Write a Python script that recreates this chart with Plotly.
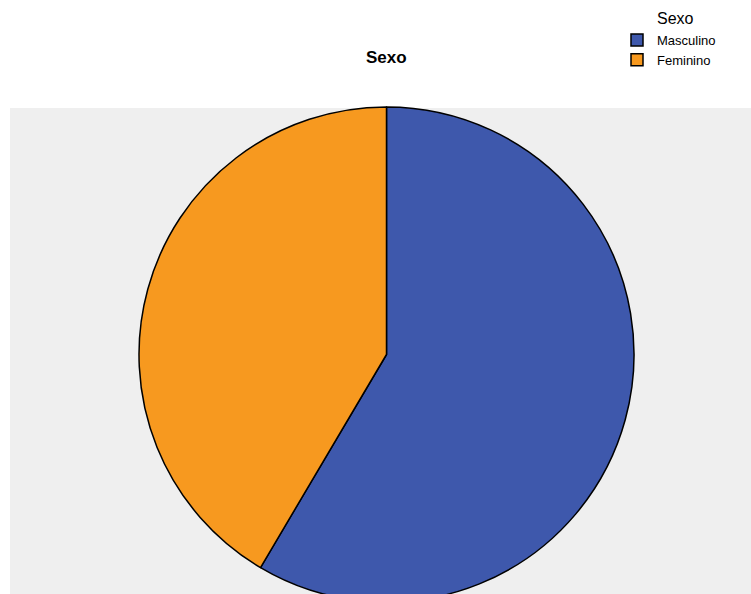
import plotly.graph_objects as go

# Data
categories = ["Masculino", "Feminino"]
values = [58.5, 41.5]
colors = ["#3E58AC", "#F7991F"]
chart_title = "Sexo"
legend_title = "Sexo"

W, H = 751, 612


def px(x):
    return x / W


def py(y):
    return (H - y) / H


fig = go.Figure()
fig.add_trace(go.Pie(
    labels=categories,
    values=values,
    marker=dict(colors=colors, line=dict(color="#000000", width=1.5)),
    sort=False,
    direction="clockwise",
    rotation=0,
    textinfo="none",
    hoverinfo="label+percent",
    domain=dict(x=[px(139), px(634)], y=[py(602), py(107)]),
    showlegend=True,
))

fig.add_shape(type="rect", xref="paper", yref="paper",
              x0=px(10), x1=1, y0=0, y1=py(108),
              fillcolor="#EFEFEF", line=dict(width=0), layer="below")

fig.add_annotation(text="<b>%s</b>" % chart_title, xref="paper", yref="paper",
                   x=px(386), y=py(57), xanchor="center", yanchor="middle",
                   showarrow=False, font=dict(family="Liberation Sans, Arial", size=17, color="#000"))
fig.add_annotation(text=legend_title, xref="paper", yref="paper",
                   x=px(655), y=py(18), xanchor="left", yanchor="middle",
                   showarrow=False, font=dict(family="Liberation Sans, Arial", size=16, color="#000"))

fig.update_layout(
    width=W, height=H,
    margin=dict(l=0, r=0, t=0, b=0),
    paper_bgcolor="white",
    plot_bgcolor="white",
    font=dict(family="Liberation Sans, Arial", color="#000"),
    legend=dict(x=px(617), y=py(25), xanchor="left", yanchor="top",
                font=dict(size=13), bgcolor="rgba(0,0,0,0)", traceorder="normal"),
)

fig.write_html("out.html", post_script="document.documentElement.style.overflow='hidden';document.body.style.overflow='hidden';document.body.style.margin='0';")
